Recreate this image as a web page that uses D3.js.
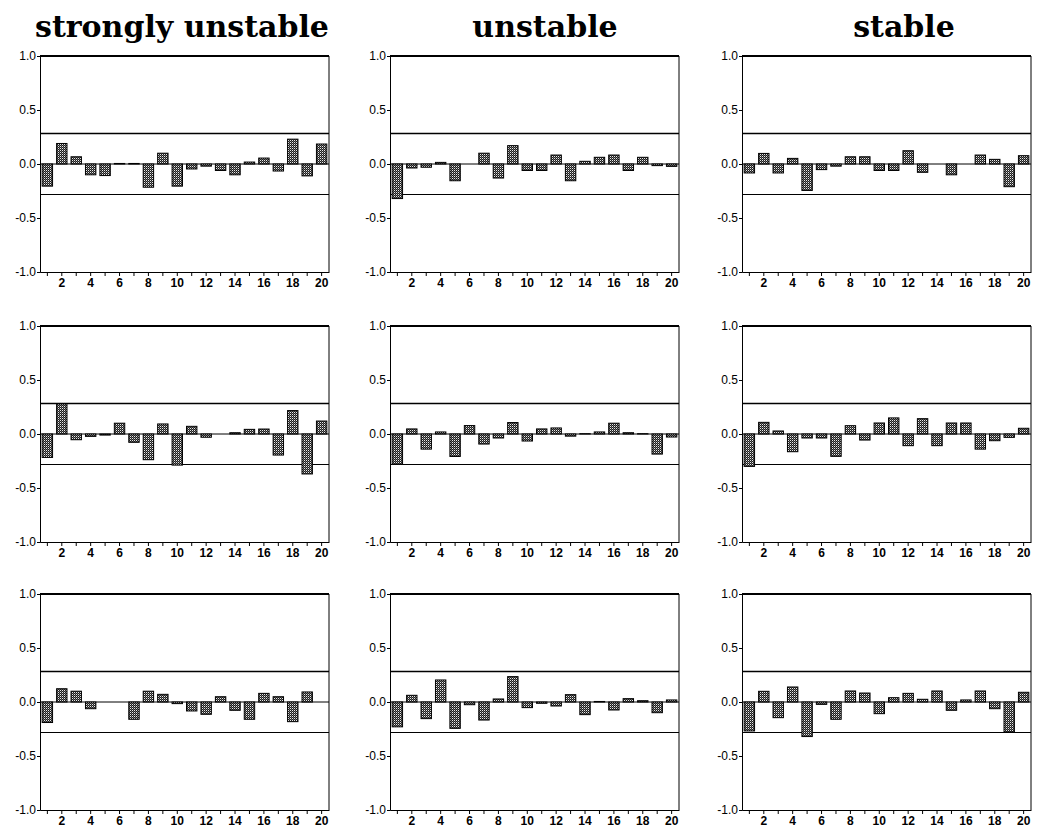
<!DOCTYPE html>
<html>
<head>
<meta charset="utf-8">
<script src="https://cdn.jsdelivr.net/npm/d3@7"></script>
<style>
body { margin: 0; background: #fff; }
.axis text { font-family: "Liberation Sans", Arial, sans-serif; font-size: 12px; fill: #000; }
.axis line, .axis path { stroke: #000; }
</style>
</head>
<body>
<div id="chart"></div>
<script>
// column titles and shared axis values
var titles = ["strongly unstable", "unstable", "stable"];
var lags = d3.range(1, 21);
var yTicks = [-1, -0.5, 0, 0.5, 1];
var confBand = 0.2828;

// autocorrelations, rows top to bottom
var su1 = [-0.205, 0.19, 0.067, -0.10, -0.107, 0.005, 0.005, -0.215, 0.10, -0.205, -0.046, -0.02, -0.06, -0.10, 0.018, 0.055, -0.065, 0.23, -0.11, 0.185];
var su2 = [-0.217, 0.279, -0.053, -0.022, -0.01, 0.10, -0.077, -0.238, 0.093, -0.288, 0.071, -0.03, 0, 0.012, 0.043, 0.046, -0.195, 0.217, -0.37, 0.12];
var su3 = [-0.19, 0.123, 0.10, -0.062, 0, 0, -0.16, 0.10, 0.071, -0.015, -0.083, -0.114, 0.049, -0.077, -0.16, 0.08, 0.049, -0.182, 0.093, 0];

var un1 = [-0.32, -0.037, -0.03, 0.015, -0.155, 0, 0.10, -0.13, 0.17, -0.06, -0.06, 0.083, -0.155, 0.025, 0.062, 0.083, -0.06, 0.062, -0.015, -0.022];
var un2 = [-0.28, 0.047, -0.14, 0.019, -0.208, 0.078, -0.093, -0.037, 0.106, -0.065, 0.047, 0.056, -0.02, 0.003, 0.019, 0.10, 0.012, 0.003, -0.186, -0.028];
var un3 = [-0.23, 0.062, -0.154, 0.204, -0.244, -0.025, -0.167, 0.028, 0.235, -0.052, -0.012, -0.037, 0.068, -0.117, 0.005, -0.074, 0.031, 0.012, -0.099, 0.019];

var st1 = [-0.083, 0.098, -0.083, 0.052, -0.245, -0.052, -0.02, 0.067, 0.067, -0.06, -0.06, 0.123, -0.077, 0, -0.10, 0, 0.083, 0.043, -0.21, 0.077];
var st2 = [-0.30, 0.108, 0.028, -0.164, -0.037, -0.037, -0.207, 0.077, -0.056, 0.102, 0.149, -0.108, 0.142, -0.108, 0.102, 0.102, -0.14, -0.062, -0.031, 0.053];
var st3 = [-0.268, 0.099, -0.145, 0.139, -0.32, -0.022, -0.16, 0.102, 0.083, -0.108, 0.04, 0.08, 0.025, 0.102, -0.077, 0.019, 0.102, -0.062, -0.278, 0.09];

var columns = [[su1, su2, su3], [un1, un2, un3], [st1, st2, st3]];

var width = 1037, height = 833;
var colLeft = [40, 390, 742], rowTop = [56, 326, 594];
var pw = 289, ph = 216;

var svg = d3.select("#chart").append("svg")
	.attr("width", width)
	.attr("height", height);

// dithered grey fill like the printed bars
var pat = svg.append("defs").append("pattern")
	.attr("id", "dots")
	.attr("width", 2).attr("height", 2)
	.attr("patternUnits", "userSpaceOnUse");
pat.append("rect").attr("width", 2).attr("height", 2).attr("fill", "#1e1e1e");
pat.append("rect").attr("width", 1).attr("height", 1).attr("fill", "#e8e8e8");
pat.append("rect").attr("x", 1).attr("y", 1).attr("width", 1).attr("height", 1).attr("fill", "#6a6a6a");

svg.selectAll("text.title")
	.data(titles)
	.enter().append("text")
	.attr("class", "title")
	.attr("x", function(d, i) { return [182, 545, 904][i]; })
	.attr("y", 37)
	.attr("text-anchor", "middle")
	.style("font-family", "'DejaVu Serif', serif")
	.style("font-weight", "bold")
	.style("font-size", "30px")
	.text(function(d) { return d; });

var x = d3.scaleBand().domain(lags).range([0, pw]).paddingInner(0.28).paddingOuter(0.15);
var y = d3.scaleLinear().domain([-1, 1]).range([ph, 0]);

columns.forEach(function(col, c) {
	col.forEach(function(values, r) {
		var g = svg.append("g")
			.attr("transform", "translate(" + colLeft[c] + "," + rowTop[r] + ")");

		// confidence bands and zero line
		g.append("line").attr("x1", 0).attr("x2", pw)
			.attr("y1", y(confBand)).attr("y2", y(confBand))
			.attr("stroke", "#000").attr("stroke-width", 1.6);
		g.append("line").attr("x1", 0).attr("x2", pw)
			.attr("y1", y(-confBand)).attr("y2", y(-confBand))
			.attr("stroke", "#000").attr("stroke-width", 1.1);
		g.append("line").attr("x1", 0).attr("x2", pw)
			.attr("y1", y(0)).attr("y2", y(0))
			.attr("stroke", "#000").attr("stroke-width", 1);

		var data = lags.map(function(l, i) { return { lag: l, v: values[i] }; })
			.filter(function(d) { return d.v !== 0; });

		g.selectAll("rect.bar")
			.data(data)
			.enter().append("rect")
			.attr("class", "bar")
			.attr("x", function(d) { return x(d.lag); })
			.attr("width", x.bandwidth())
			.attr("y", function(d) { return y(Math.max(0, d.v)); })
			.attr("height", function(d) { return Math.abs(y(d.v) - y(0)); })
			.attr("fill", "url(#dots)")
			.attr("stroke", "#000")
			.attr("stroke-width", 1);

		// frame: thick top, thin right
		g.append("line").attr("x1", 0).attr("x2", pw).attr("y1", 0).attr("y2", 0)
			.attr("stroke", "#000").attr("stroke-width", 2);
		g.append("line").attr("x1", pw).attr("x2", pw).attr("y1", 0).attr("y2", ph)
			.attr("stroke", "#000").attr("stroke-width", 1);

		g.append("g")
			.attr("class", "axis")
			.call(d3.axisLeft(y).tickValues(yTicks).tickSize(3).tickPadding(1)
				.tickFormat(function(d) { return d.toFixed(1); }));

		g.append("g")
			.attr("class", "axis x")
			.attr("transform", "translate(0," + ph + ")")
			.call(d3.axisBottom(x).tickSize(4).tickSizeOuter(0).tickPadding(2)
				.tickFormat(function(d) { return d % 2 === 0 ? d : ""; }));
	});
});

svg.selectAll(".axis.x text").style("font-weight", "bold");
</script>
</body>
</html>
